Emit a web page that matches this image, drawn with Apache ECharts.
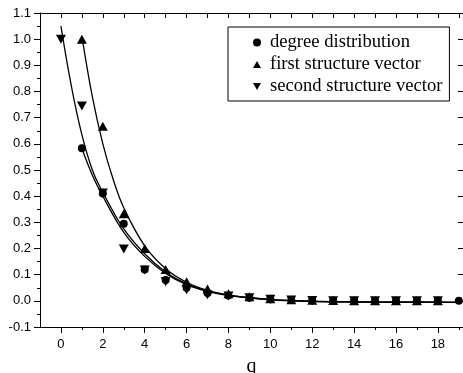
<!DOCTYPE html>
<html><head><meta charset="utf-8">
<script src="https://cdn.jsdelivr.net/npm/echarts@6/dist/echarts.min.js"></script>
<style>html,body{margin:0;padding:0;background:#fff}#c{width:463px;height:373px}</style>
</head><body><div id="c"></div>
<script>
// ---- data ----
const qValues = [0,1,2,3,4,5,6,7,8,9,10,11,12,13,14,15,16,17,18,19];
const degreeDistribution = [null,0.583,0.41,0.295,0.12,0.08,0.05,0.03,0.02,0.012,0.006,0.003,0.001,0,0,0,0,0,0,0];
const firstStructure   = [null,1.0,0.667,0.333,0.2,0.12,0.073,0.045,0.027,0.016,0.008,0.004,0.002,0.001,0,0,0,0,0,null];
const secondStructure  = [1.0,0.745,0.412,0.198,0.118,0.073,0.042,0.023,0.018,0.012,0.006,0.003,0.001,0,0,0,0,0,0,null];

// fitted curves
const fitSecondQ = [0,0.5,1,1.5,2,3,4,5,6,7,8,9,10,12,14,16,19];
const fitSecondV = [1.05,0.82,0.635,0.50,0.415,0.275,0.18,0.11,0.065,0.038,0.022,0.012,0.005,-0.001,-0.004,-0.005,-0.006];
const fitDegreeQ = [1,1.5,2,3,4,5,6,7,8,10,12,14,16,19];
const fitDegreeV = [0.583,0.48,0.40,0.262,0.17,0.105,0.062,0.036,0.02,0.004,-0.002,-0.004,-0.005,-0.006];
const fitFirstQ  = [1,1.5,2,2.5,3,4,5,6,7,8,9,10,12,14,16,19];
const fitFirstV  = [1.012,0.78,0.60,0.463,0.356,0.21,0.123,0.071,0.04,0.022,0.012,0.005,-0.002,-0.004,-0.005,-0.006];

const xMajorTicks = [0,2,4,6,8,10,12,14,16,18];
const xMinorTicks = [1,3,5,7,9,11,13,15,17,19];
const seriesNames = ['degree distribution','first structure vector','second structure vector'];

const downTri = 'path://M0,0 L10,0 L5,9 Z';
const upTri = 'path://M5,0 L10,9 L0,9 Z';

function pairs(xs, ys){ const out=[]; xs.forEach((x,i)=>{ if(ys[i]!==null && ys[i]!==undefined) out.push([x, ys[i]]); }); return out; }

const chart = echarts.init(document.getElementById('c'), null, {renderer:'canvas'});
const axisFont = {fontFamily:'Liberation Sans, Arial, sans-serif', fontSize:13, color:'#000'};
const lineStyle = {color:'#000', width:1};

function fitSeries(q, v){
  return {type:'line', data: pairs(q, v), showSymbol:false, smooth:0.4,
    lineStyle:{color:'#000', width:1.3}, silent:true, z:2};
}

chart.setOption({
  animation:false,
  backgroundColor:'#fff',
  grid:{left:40, top:13, right:0, bottom:46, containLabel:false, outerBoundsMode:'none'},
  legend:{
    orient:'vertical', left:228, top:27,
    data:[{name:seriesNames[0], icon:'circle'},{name:seriesNames[1], icon:upTri},{name:seriesNames[2], icon:downTri}],
    itemWidth:8, itemHeight:8, itemGap:3,
    borderColor:'#000', borderWidth:1, padding:[6,7,5,25],
    textStyle:{fontFamily:'Liberation Serif, Times New Roman, serif', fontSize:18.6, color:'#000', lineHeight:18, padding:[0,0,0,4]}
  },
  xAxis:[
    {type:'value', position:'bottom', min:-1, max:19.2,
      name:'q', nameLocation:'middle', nameGap:30,
      nameTextStyle:{fontFamily:'Liberation Serif, Times New Roman, serif', fontSize:20, color:'#000'},
      axisLine:{show:true, onZero:false, lineStyle:lineStyle},
      axisTick:{show:true, inside:false, length:6, customValues:xMajorTicks, lineStyle:lineStyle},
      axisLabel:{show:true, margin:11, customValues:xMajorTicks, ...axisFont},
      splitLine:{show:false}},
    {type:'value', position:'bottom', min:-1, max:19.2,
      axisLine:{show:false, onZero:false},
      axisTick:{show:true, inside:false, length:3, customValues:xMinorTicks, lineStyle:lineStyle},
      axisLabel:{show:false}, splitLine:{show:false}},
    {type:'value', position:'top', min:-1, max:19.2, interval:1,
      axisLine:{show:true, onZero:false, lineStyle:lineStyle},
      axisTick:{show:true, inside:true, length:5, lineStyle:lineStyle},
      axisLabel:{show:false}, splitLine:{show:false}}
  ],
  yAxis:[
    {type:'value', position:'left', min:-0.1, max:1.1, interval:0.1,
      axisLine:{show:true, onZero:false, lineStyle:lineStyle},
      axisTick:{show:true, inside:false, length:6, lineStyle:lineStyle},
      minorTick:{show:true, splitNumber:2, length:3, lineStyle:lineStyle},
      axisLabel:{show:true, margin:9, formatter:v=>(Math.round(v*10)/10).toFixed(1), ...axisFont},
      splitLine:{show:false}},
    {type:'value', position:'right', min:-0.1, max:1.1, interval:0.1,
      axisLine:{show:true, onZero:false, lineStyle:lineStyle},
      axisTick:{show:true, inside:true, length:5, lineStyle:lineStyle},
      axisLabel:{show:false}, splitLine:{show:false}}
  ],
  series:[
    fitSeries(fitSecondQ, fitSecondV),
    fitSeries(fitDegreeQ, fitDegreeV),
    fitSeries(fitFirstQ, fitFirstV),
    {name:seriesNames[0], type:'scatter', data:pairs(qValues, degreeDistribution), symbol:'circle', symbolSize:8,
      itemStyle:{color:'#000', opacity:1}, z:3},
    {name:seriesNames[1], type:'scatter', data:pairs(qValues, firstStructure), symbol:upTri, symbolSize:[10,9],
      itemStyle:{color:'#000', opacity:1}, z:3},
    {name:seriesNames[2], type:'scatter', data:pairs(qValues, secondStructure), symbol:downTri, symbolSize:[10,9],
      itemStyle:{color:'#000', opacity:1}, z:3}
  ]
});
</script>
</body></html>
